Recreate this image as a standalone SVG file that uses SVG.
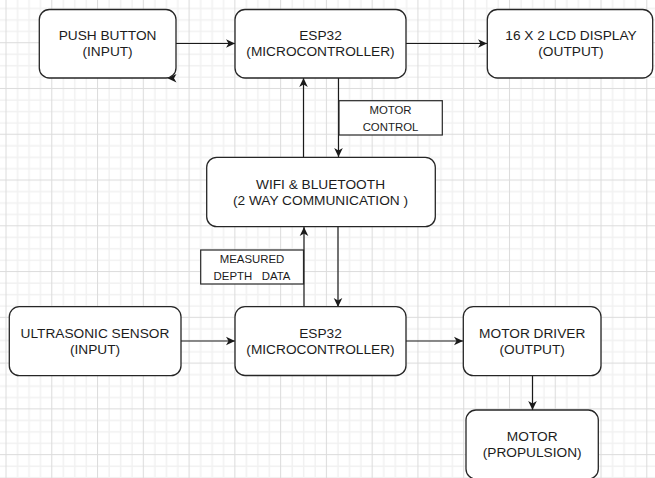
<svg xmlns="http://www.w3.org/2000/svg" width="655" height="478" viewBox="0 0 655 478">
<defs>
<pattern id="grid" patternUnits="userSpaceOnUse" x="5.5" y="-3.57" width="45.77" height="45.77">
<rect x="0" y="0" width="45.77" height="45.77" fill="#ffffff"/>
<g fill="#f1f1f1">
<rect x="11.44" y="0" width="1.4" height="45.77"/>
<rect x="22.88" y="0" width="1.4" height="45.77"/>
<rect x="34.33" y="0" width="1.4" height="45.77"/>
<rect x="0" y="11.44" width="45.77" height="1.4"/>
<rect x="0" y="22.88" width="45.77" height="1.4"/>
<rect x="0" y="34.33" width="45.77" height="1.4"/>
</g>
<g fill="#dcdcdc">
<rect x="0" y="0" width="1" height="45.77"/>
<rect x="0" y="0" width="45.77" height="1"/>
</g>
</pattern>
<marker id="arr" viewBox="-10 -5 11 10" refX="0" refY="0" markerWidth="11" markerHeight="10" markerUnits="userSpaceOnUse" orient="auto">
<path d="M0,0 L-9,-4.3 L-6.5,0 L-9,4.3 Z" fill="#1a1a1a"/>
</marker>
</defs>
<style>
.box{fill:#ffffff;stroke:#262626;stroke-width:1.3}
.lbl{fill:#ffffff;stroke:#262626;stroke-width:1.2}
.t{font-family:"Liberation Sans",Arial,sans-serif;font-size:13.7px;fill:#1c1c1c;text-anchor:middle}
.s{font-family:"Liberation Sans",Arial,sans-serif;font-size:11.4px;fill:#1c1c1c;text-anchor:middle;white-space:pre}
.c{fill:none;stroke:#1a1a1a;stroke-width:1.2;marker-end:url(#arr)}
</style>
<rect x="0" y="0" width="655" height="478" fill="url(#grid)"/>

<g id="connectors">
<path class="c" d="M176,43.5 L235,43.5"/>
<path class="c" d="M406,43.5 L487,43.5"/>
<path class="c" d="M303.5,157 L303.5,78"/>
<path class="c" d="M338.5,78 L338.5,157"/>
<path class="c" d="M304,307 L304,227"/>
<path class="c" d="M338,227 L338,307"/>
<path class="c" d="M181,341 L235,341"/>
<path class="c" d="M406,341 L463,341"/>
<path class="c" d="M532.5,376 L532.5,410"/>
<path d="M167.5,78.3 L176.5,74 L174,78.3 L176.5,82.6 Z" fill="#1a1a1a"/>
</g>

<g id="lbl-motor-control">
<rect class="lbl" x="339" y="100.7" width="103.3" height="34.3"/>
<text class="s" x="390.5" y="114.3">MOTOR</text>
<text class="s" x="390.5" y="130.7">CONTROL</text>
</g>
<g id="lbl-measured">
<rect class="lbl" x="200.7" y="250" width="102.8" height="34"/>
<text class="s" x="252" y="263.3">MEASURED</text>
<text class="s" x="252" y="280">DEPTH   DATA</text>
</g>

<g id="push-button">
<rect class="box" x="39.3" y="9.5" width="136.7" height="68.5" rx="10"/>
<text class="t" x="107.6" y="40">PUSH BUTTON</text>
<text class="t" x="107.6" y="56">(INPUT)</text>
</g>
<g id="esp32-top">
<rect class="box" x="235" y="9.5" width="171" height="68.5" rx="10"/>
<text class="t" x="320.5" y="40">ESP32</text>
<text class="t" x="320.5" y="56">(MICROCONTROLLER)</text>
</g>
<g id="lcd">
<rect class="box" x="487.3" y="9.5" width="165.4" height="68.5" rx="10"/>
<text class="t" x="571" y="40">16 X 2 LCD DISPLAY</text>
<text class="t" x="571" y="56">(OUTPUT)</text>
</g>
<g id="wifi">
<rect class="box" x="206.7" y="157.3" width="228.6" height="69.4" rx="10"/>
<text class="t" x="320.5" y="189">WIFI &amp; BLUETOOTH</text>
<text class="t" x="320.5" y="205">(2 WAY COMMUNICATION )</text>
</g>
<g id="ultrasonic">
<rect class="box" x="9.3" y="306.7" width="171.7" height="69" rx="10"/>
<text class="t" x="95" y="338">ULTRASONIC SENSOR</text>
<text class="t" x="95" y="354">(INPUT)</text>
</g>
<g id="esp32-bottom">
<rect class="box" x="235" y="306.7" width="171" height="68.8" rx="10"/>
<text class="t" x="320.5" y="338">ESP32</text>
<text class="t" x="320.5" y="354">(MICROCONTROLLER)</text>
</g>
<g id="motor-driver">
<rect class="box" x="463.3" y="306.7" width="137.7" height="69" rx="10"/>
<text class="t" x="532.2" y="338">MOTOR DRIVER</text>
<text class="t" x="532.2" y="354">(OUTPUT)</text>
</g>
<g id="motor">
<rect class="box" x="466" y="410" width="132.3" height="69" rx="10"/>
<text class="t" x="532.2" y="441">MOTOR</text>
<text class="t" x="532.2" y="457">(PROPULSION)</text>
</g>
</svg>
